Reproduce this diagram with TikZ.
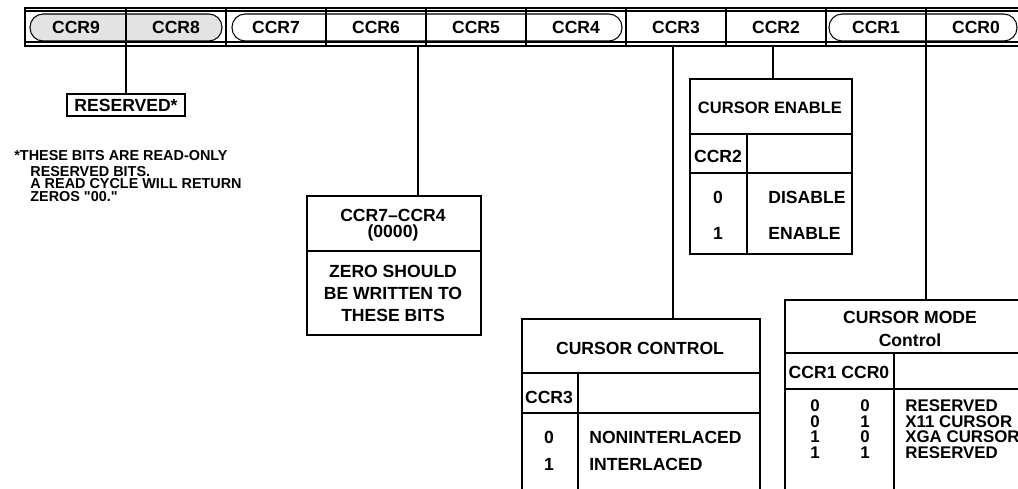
\documentclass[tikz,border=0pt]{standalone}
\usepackage{fontspec}
\setmainfont{Liberation Sans}[Ligatures=TeXOff]
\begin{document}
\begin{tikzpicture}[x=0.02cm,y=-0.02cm,
    bit/.style={font=\fontsize{10}{12}\selectfont\bfseries,inner sep=0pt},
    txt/.style={font=\fontsize{10}{12}\selectfont\bfseries,inner sep=0pt},
    row/.style={font=\fontsize{9.6}{10}\selectfont\bfseries,inner sep=0pt},
    note/.style={font=\fontsize{8.2}{10}\selectfont\bfseries,inner sep=0pt,anchor=west},
    grp/.style={draw,line width=0.6pt,rounded corners=7.5pt},
    tbl/.style={draw,line width=1.1pt,inner sep=0pt,anchor=north west},
    rule/.style={line width=0.6pt},
    wire/.style={line width=0.9pt}]
  \useasboundingbox (0,0) rectangle (1018,489);
  \clip (0,0) rectangle (1018,489);
  % register bar
  \draw[grp,fill=gray!22] (30,14) rectangle (222,41);
  \draw[grp] (232,14) rectangle (622,41);
  \draw[grp] (829,14) rectangle (1017,41);
  \draw[rule] (25,11) -- (1030,11) (25,42) -- (1030,42);
  \foreach \x in {126,326,426,526,626,726,826,926}
    \draw[rule] (\x,8) -- (\x,46);
  \draw[line width=1.3pt] (226,8) -- (226,46);
  \draw[line width=1.4pt] (25,8) rectangle (1030,46);
  \foreach \i in {0,...,9}
    \node[bit] (ccr\i) at ({976-100*\i},27.5) {CCR\i};
  \coordinate (b98) at (126,46);
  \coordinate (b74) at (418,46);
  \coordinate (b3) at (673,46);
  \coordinate (b2) at (773,46);
  \coordinate (b10) at (926,46);
  % reserved bits
  \node[txt,draw,line width=0.9pt,minimum width=2.36cm,minimum height=0.44cm] (resv) at (126,105) {RESERVED*};
  \draw[wire] (b98) -- (resv.north);
  \node[note] (n1) at (14,156) {*THESE BITS ARE READ-ONLY};
  \node[note] (n2) at (30,171.5) {RESERVED BITS.};
  \node[note] (n3) at (30,184) {A READ CYCLE WILL RETURN};
  \node[note] (n4) at (30,196.5) {ZEROS "00."};
  % CCR7-CCR4
  \node[tbl,minimum width=3.48cm,minimum height=2.78cm] (zero) at (306,195) {};
  \draw[rule] (306,251) -- (480,251);
  \draw[wire] (b74) -- (b74 |- zero.north);
  \node[txt] (z1) at (393,215) {CCR7–CCR4};
  \node[txt] (z2) at (393,233) {(0000)};
  \node[txt] (z3) at (393,271) {ZERO SHOULD};
  \node[txt] (z4) at (393,293) {BE WRITTEN TO};
  \node[txt] (z5) at (393,315) {THESE BITS};
  % cursor control
  \node[tbl,minimum width=4.76cm,minimum height=4.04cm] (ctrl) at (521,318) {};
  \draw[rule] (521,373) -- (759,373) (521,413) -- (759,413) (578,373) -- (578,520);
  \draw[wire] (b3) -- (b3 |- ctrl.north);
  \node[txt] (c0) at (640,348) {CURSOR CONTROL};
  \node[txt] (c1) at (549,397) {CCR3};
  \node[txt] (c2) at (549,437) {0};
  \node[txt] (c3) at (549,464) {1};
  \node[txt,anchor=west] (c4) at (589,437) {NONINTERLACED};
  \node[txt,anchor=west] (c5) at (589,464) {INTERLACED};
  % cursor enable
  \node[tbl,minimum width=3.24cm,minimum height=3.5cm] (enable) at (689,78) {};
  \draw[rule] (689,134) -- (851,134) (689,173) -- (851,173) (747,134) -- (747,253);
  \draw[wire] (b2) -- (b2 |- enable.north);
  \node[txt,font=\fontsize{9.4}{10}\selectfont\bfseries] (e0) at (770,108) {CURSOR ENABLE};
  \node[txt] (e1) at (718,156) {CCR2};
  \node[txt] (e2) at (718,197) {0};
  \node[txt] (e3) at (718,233) {1};
  \node[txt,anchor=west] (e4) at (768,197) {DISABLE};
  \node[txt,anchor=west] (e5) at (768,233) {ENABLE};
  % cursor mode
  \node[tbl,minimum width=5.04cm,minimum height=4.42cm] (mode) at (784,299) {};
  \draw[rule] (784,353) -- (1036,353) (784,389) -- (1036,389) (894,353) -- (894,520);
  \draw[wire] (b10) -- (b10 |- mode.north);
  \node[txt] (m0) at (910,317) {CURSOR MODE};
  \node[txt] (m1) at (910,340) {Control};
  \node[txt] (m2) at (839,372) {CCR1 CCR0};
  \node[row] (m3) at (815,406) {0};
  \node[row] (m4) at (865,406) {0};
  \node[row,anchor=west] (m5) at (905,406) {RESERVED};
  \node[row] (m6) at (815,421.5) {0};
  \node[row] (m7) at (865,421.5) {1};
  \node[row,anchor=west] (m8) at (905,421.5) {X11 CURSOR};
  \node[row] (m9) at (815,437) {1};
  \node[row] (m10) at (865,437) {0};
  \node[row,anchor=west] (m11) at (905,437) {XGA CURSOR};
  \node[row] (m12) at (815,452.5) {1};
  \node[row] (m13) at (865,452.5) {1};
  \node[row,anchor=west] (m14) at (905,452.5) {RESERVED};
\end{tikzpicture}
\end{document}
